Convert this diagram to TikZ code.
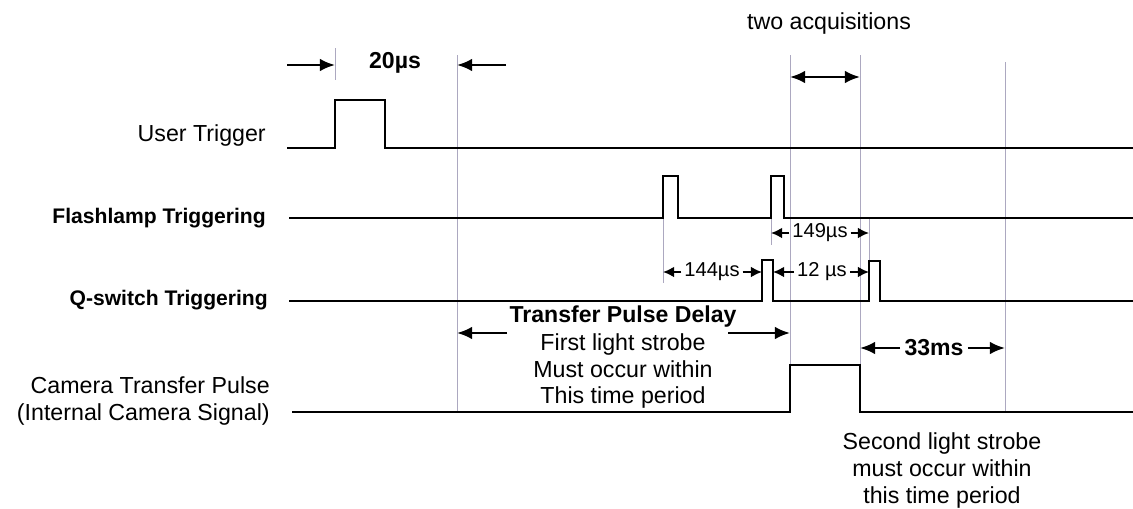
\documentclass[tikz,border=0pt]{standalone}
\usepackage{fontspec}
\setmainfont{Liberation Sans}
\usepackage{tikz}
\usetikzlibrary{positioning, arrows.meta}
\definecolor{guidegray}{RGB}{172,168,192}
\tikzset{
  sig/.style={line width=2.1pt, line join=miter},
  guide/.style={guidegray, line width=0.7pt},
  bigarr/.style={line width=1.8pt, -{Latex[length=0.38cm,width=0.32cm]}},
  dimarr/.style={line width=1.2pt, -{Latex[length=0.28cm,width=0.27cm]}},
  lbl/.style={font=\fontsize{16.5}{18.8}\selectfont, inner sep=0pt},
  blbl/.style={font=\fontsize{15}{18}\selectfont\bfseries, inner sep=0pt},
  dimlbl/.style={font=\fontsize{14.3}{17}\selectfont, inner sep=2pt}
}

\begin{document}
\begin{tikzpicture}[x=0.025cm, y=-0.025cm]
\useasboundingbox (0,0) rectangle (1133,508);
\coordinate (u1) at (335,148);
\coordinate (d0) at (457,412);
\coordinate (f1) at (663,218);
\coordinate (f2) at (771,218);
\coordinate (q1a) at (762,301);
\coordinate (q1b) at (773,301);
\coordinate (q2) at (869,301);
\coordinate (c1) at (790,412);
\coordinate (c2) at (860,412);
\coordinate (e33) at (1005,412);
\draw[guide] (335,48) -- (335,80);
\draw[guide] (457,55) -- (d0);
\draw[guide] (790,55) -- (c1);
\draw[guide] (860,55) -- (c2);
\draw[guide] (1005,62) -- (e33);
\draw[guide] (f1) -- (663,283);
\draw[guide] (f2) -- (771,245);
\draw[guide] (869,218) -- (869,260);
\draw[sig] (287,148) -- (u1) -- (335,100) -- (385,100) -- (385,148) -- (1133,148);
\draw[sig] (289,218) -- (f1) -- (663,176) -- (678,176) -- (678,218) -- (f2) -- (771,176) -- (784,176) -- (784,218) -- (1133,218);
\draw[sig] (289,301) -- (q1a) -- (762,260) -- (773,260) -- (q1b) -- (q2) -- (869,261) -- (880,261) -- (880,301) -- (1133,301);
\draw[sig] (292,412) -- (c1) -- (790,365) -- (860,365) -- (c2) -- (1133,412);
\node[lbl, anchor=east] (user) at (266,135) {User Trigger};
\node[blbl, anchor=east] (flash) at (266,218) {Flashlamp Triggering};
\node[blbl, anchor=east] (qsw) at (268,300) {Q-switch Triggering};
\node[lbl, anchor=east, align=right] (cam) at (270,401) {Camera Transfer Pulse\\(Internal Camera Signal)};
\node[font=\fontsize{16.4}{19}\selectfont\bfseries, inner sep=0pt] (l20) at (395,63) {20µs};
\coordinate (a20s) at (287,65);
\coordinate (a20e) at (506,65);
\draw[bigarr] (a20s) -- (a20s -| u1);
\draw[bigarr] (a20e) -- (a20e -| d0);
\node[lbl] (acq) at (829,23) {two acquisitions};
\coordinate (acqy) at (0,77);
\draw[line width=1.8pt, {Latex[length=0.38cm,width=0.32cm]}-{Latex[length=0.38cm,width=0.32cm]}] (acqy -| c1) -- (acqy -| c2);
\node[dimlbl] (l149) at (820,233) {149µs};
\draw[dimarr] (l149.west) -- (l149.west -| f2);
\draw[dimarr] (l149.east) -- (l149.east -| q2);
\node[dimlbl] (l144) at (712,272) {144µs};
\draw[dimarr] (l144.west) -- (l144.west -| f1);
\draw[dimarr] (l144.east) -- (l144.east -| q1a);
\node[dimlbl] (l12) at (822,272) {12 µs};
\draw[dimarr] (l12.west) -- (l12.west -| q1b);
\draw[dimarr] (l12.east) -- (l12.east -| q2);
\node[font=\fontsize{16.4}{19}\selectfont\bfseries, inner sep=0pt] (tpd) at (623,317) {Transfer Pulse Delay};
\coordinate (tpl) at (507,333);
\coordinate (tpr) at (728,333);
\draw[bigarr] (tpl) -- (tpl -| d0);
\draw[bigarr] (tpr) -- (tpr -| c1);
\node[lbl, align=center] (note1) at (623,371) {First light strobe\\Must occur within\\This time period};
\node[font=\fontsize{16.4}{19}\selectfont\bfseries, inner sep=3pt] (l33) at (934,348) {33ms};
\draw[bigarr] (l33.west) -- (l33.west -| c2);
\draw[bigarr] (l33.east) -- (l33.east -| e33);
\node[lbl, align=center, font=\fontsize{16.5}{19.2}\selectfont] (note2) at (942,470) {Second light strobe\\must occur within\\this time period};
\end{tikzpicture}
\end{document}
